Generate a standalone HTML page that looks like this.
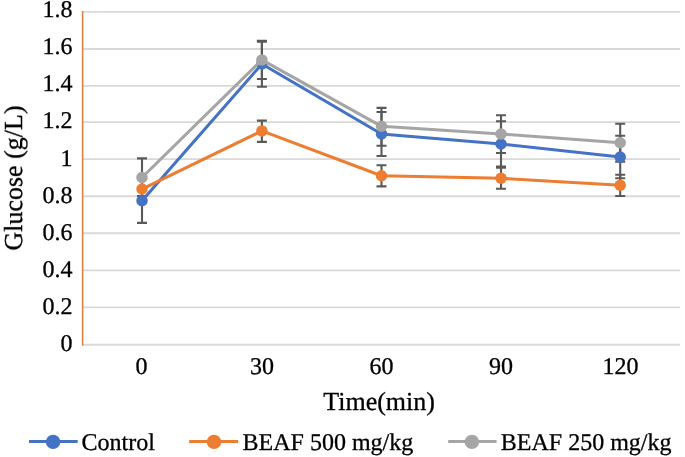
<!DOCTYPE html>
<html><head><meta charset="utf-8"><style>
html,body{margin:0;padding:0;background:#fff;}
svg{display:block;}
.t{filter:grayscale(1);}
text{text-rendering:geometricPrecision;font-family:"Liberation Serif",serif;font-size:24px;fill:#000;stroke:#000;stroke-width:0.3px;}
</style></head><body>
<svg width="685" height="457" viewBox="0 0 685 457">
<line x1="82.60" y1="344.74" x2="680.00" y2="344.74" stroke="#D9D9D9" stroke-width="1.8"/>
<line x1="82.60" y1="307.36" x2="680.00" y2="307.36" stroke="#D9D9D9" stroke-width="1.8"/>
<line x1="82.60" y1="270.47" x2="680.00" y2="270.47" stroke="#D9D9D9" stroke-width="1.8"/>
<line x1="82.60" y1="233.25" x2="680.00" y2="233.25" stroke="#D9D9D9" stroke-width="1.8"/>
<line x1="82.60" y1="196.25" x2="680.00" y2="196.25" stroke="#D9D9D9" stroke-width="1.8"/>
<line x1="82.60" y1="159.14" x2="680.00" y2="159.14" stroke="#D9D9D9" stroke-width="1.8"/>
<line x1="82.60" y1="122.10" x2="680.00" y2="122.10" stroke="#D9D9D9" stroke-width="1.8"/>
<line x1="82.60" y1="85.85" x2="680.00" y2="85.85" stroke="#D9D9D9" stroke-width="1.8"/>
<line x1="82.60" y1="49.00" x2="680.00" y2="49.00" stroke="#D9D9D9" stroke-width="1.8"/>
<line x1="82.60" y1="11.90" x2="680.00" y2="11.90" stroke="#D9D9D9" stroke-width="1.8"/>
<line x1="82.60" y1="11.0" x2="82.60" y2="345.4" stroke="#E27A3E" stroke-width="1.5"/>
<path d="M142.00,178.60V222.90M137.00,178.60H147.00M137.00,222.90H147.00" stroke="#595959" stroke-width="2.1" fill="none"/>
<path d="M261.90,41.60V86.70M256.90,41.60H266.90M256.90,86.70H266.90" stroke="#595959" stroke-width="2.1" fill="none"/>
<path d="M381.50,112.00V156.05M376.50,112.00H386.50M376.50,156.05H386.50" stroke="#595959" stroke-width="2.1" fill="none"/>
<path d="M501.00,121.25V166.50M496.00,121.25H506.00M496.00,166.50H506.00" stroke="#595959" stroke-width="2.1" fill="none"/>
<path d="M620.20,135.80V178.20M615.20,135.80H625.20M615.20,178.20H625.20" stroke="#595959" stroke-width="2.1" fill="none"/>
<path d="M142.00,178.45V199.65M137.00,178.45H147.00M137.00,199.65H147.00" stroke="#595959" stroke-width="2.1" fill="none"/>
<path d="M261.90,120.60V141.90M256.90,120.60H266.90M256.90,141.90H266.90" stroke="#595959" stroke-width="2.1" fill="none"/>
<path d="M381.50,165.20V186.35M376.50,165.20H386.50M376.50,186.35H386.50" stroke="#595959" stroke-width="2.1" fill="none"/>
<path d="M501.00,167.80V188.80M496.00,167.80H506.00M496.00,188.80H506.00" stroke="#595959" stroke-width="2.1" fill="none"/>
<path d="M620.20,174.80V196.05M615.20,174.80H625.20M615.20,196.05H625.20" stroke="#595959" stroke-width="2.1" fill="none"/>
<path d="M142.00,158.35V196.00M137.00,158.35H147.00M137.00,196.00H147.00" stroke="#595959" stroke-width="2.1" fill="none"/>
<path d="M261.90,40.90V79.05M256.90,40.90H266.90M256.90,79.05H266.90" stroke="#595959" stroke-width="2.1" fill="none"/>
<path d="M381.50,107.90V145.80M376.50,107.90H386.50M376.50,145.80H386.50" stroke="#595959" stroke-width="2.1" fill="none"/>
<path d="M501.00,115.20V153.00M496.00,115.20H506.00M496.00,153.00H506.00" stroke="#595959" stroke-width="2.1" fill="none"/>
<path d="M620.20,123.70V161.60M615.20,123.70H625.20M615.20,161.60H625.20" stroke="#595959" stroke-width="2.1" fill="none"/>
<polyline points="142.00,200.75 261.90,64.00 381.50,134.00 501.00,144.00 620.20,157.00" fill="none" stroke="#4472C4" stroke-width="3.1" stroke-linejoin="round" stroke-linecap="round"/>
<circle cx="142.00" cy="200.75" r="5.75" fill="#4472C4"/>
<circle cx="261.90" cy="64.00" r="5.75" fill="#4472C4"/>
<circle cx="381.50" cy="134.00" r="5.75" fill="#4472C4"/>
<circle cx="501.00" cy="144.00" r="5.75" fill="#4472C4"/>
<circle cx="620.20" cy="157.00" r="5.75" fill="#4472C4"/>
<polyline points="142.00,189.05 261.90,130.90 381.50,175.80 501.00,178.30 620.20,185.30" fill="none" stroke="#ED7D31" stroke-width="3.1" stroke-linejoin="round" stroke-linecap="round"/>
<circle cx="142.00" cy="189.05" r="5.75" fill="#ED7D31"/>
<circle cx="261.90" cy="130.90" r="5.75" fill="#ED7D31"/>
<circle cx="381.50" cy="175.80" r="5.75" fill="#ED7D31"/>
<circle cx="501.00" cy="178.30" r="5.75" fill="#ED7D31"/>
<circle cx="620.20" cy="185.30" r="5.75" fill="#ED7D31"/>
<polyline points="142.00,177.50 261.90,59.90 381.50,126.30 501.00,134.00 620.20,142.70" fill="none" stroke="#A5A5A5" stroke-width="3.1" stroke-linejoin="round" stroke-linecap="round"/>
<circle cx="142.00" cy="177.50" r="5.75" fill="#A5A5A5"/>
<circle cx="261.90" cy="59.90" r="5.75" fill="#A5A5A5"/>
<circle cx="381.50" cy="126.30" r="5.75" fill="#A5A5A5"/>
<circle cx="501.00" cy="134.00" r="5.75" fill="#A5A5A5"/>
<circle cx="620.20" cy="142.70" r="5.75" fill="#A5A5A5"/>
<line x1="29" y1="441.5" x2="77.7" y2="441.5" stroke="#4472C4" stroke-width="3"/>
<circle cx="53.1" cy="441.9" r="7.2" fill="#4472C4"/>
<line x1="189.2" y1="441.5" x2="238.2" y2="441.5" stroke="#ED7D31" stroke-width="3"/>
<circle cx="214.0" cy="441.9" r="7.2" fill="#ED7D31"/>
<line x1="448.2" y1="441.5" x2="496.6" y2="441.5" stroke="#A5A5A5" stroke-width="3"/>
<circle cx="471.9" cy="441.9" r="7.2" fill="#A5A5A5"/>
<g class="t">
<text x="72.4" y="350.96" text-anchor="end">0</text>
<text x="72.4" y="313.88" text-anchor="end">0.2</text>
<text x="72.4" y="276.80" text-anchor="end">0.4</text>
<text x="72.4" y="239.72" text-anchor="end">0.6</text>
<text x="72.4" y="202.64" text-anchor="end">0.8</text>
<text x="72.4" y="165.56" text-anchor="end">1</text>
<text x="72.4" y="128.48" text-anchor="end">1.2</text>
<text x="72.4" y="91.40" text-anchor="end">1.4</text>
<text x="72.4" y="54.32" text-anchor="end">1.6</text>
<text x="72.4" y="17.24" text-anchor="end">1.8</text>
<text x="141.50" y="373.9" text-anchor="middle">0</text>
<text x="262.00" y="373.9" text-anchor="middle">30</text>
<text x="381.50" y="373.9" text-anchor="middle">60</text>
<text x="501.00" y="373.9" text-anchor="middle">90</text>
<text x="620.60" y="373.9" text-anchor="middle">120</text>
<text x="379.1" y="409.6" text-anchor="middle" style="font-size:26px">Time(min)</text>
<text transform="translate(22.0,178.1) rotate(-90)" text-anchor="middle" style="font-size:26px">Glucose (g/L)</text>
<text x="81.5" y="449.7">Control</text>
<text x="242.6" y="449.7">BEAF 500 mg/kg</text>
<text x="500.8" y="449.7">BEAF 250 mg/kg</text>
</g>
</svg>
</body></html>
